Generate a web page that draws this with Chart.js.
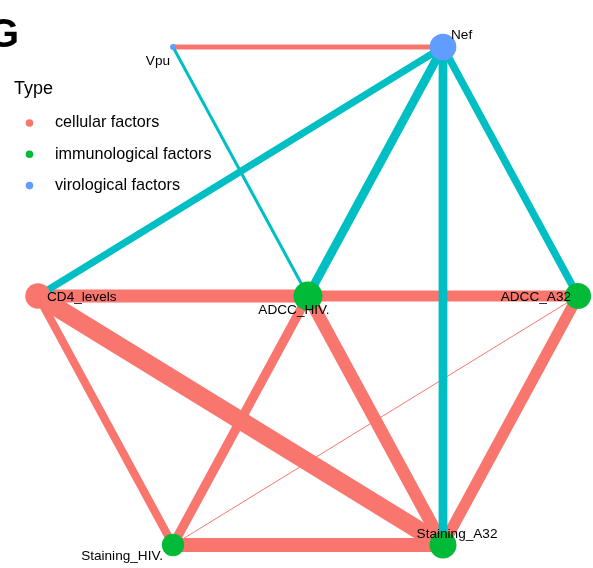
<!DOCTYPE html>
<html>
<head>
<meta charset="utf-8">
<script src="https://cdn.jsdelivr.net/npm/chart.js@4/dist/chart.umd.min.js"></script>
<style>
  html, body { margin: 0; padding: 0; background: #ffffff; overflow: hidden; }
  #wrap { position: relative; width: 593px; height: 568px; }
</style>
</head>
<body>
<div id="wrap"><canvas id="net" width="593" height="568"></canvas></div>
<script>
// ---- network data ----
const nodeNames = ['Vpu', 'Nef', 'CD4_levels', 'ADCC_HIV.', 'ADCC_A32', 'Staining_HIV.', 'Staining_A32'];
const nodeTypes = ['virological factors', 'virological factors', 'cellular factors',
                   'immunological factors', 'immunological factors', 'immunological factors', 'immunological factors'];
// grid layout coordinates (column, row)
const nodeX = [1, 3, 0, 2, 4, 1, 3];
const nodeY = [0, 0, 1, 1, 1, 2, 2];
// relative node importance
const nodeStrength = [0.2, 0.92, 0.88, 1.0, 0.9, 0.77, 0.93];

// correlation edges: positive = same direction, negative = opposite
const edgeFrom = ['Vpu', 'Vpu',       'Nef',        'Nef',       'Nef',          'Nef',      'CD4_levels', 'ADCC_HIV.', 'CD4_levels',   'CD4_levels',    'ADCC_HIV.',     'ADCC_HIV.',    'ADCC_A32',      'ADCC_A32',     'Staining_HIV.'];
const edgeTo   = ['Nef', 'ADCC_HIV.', 'CD4_levels', 'ADCC_HIV.', 'Staining_A32', 'ADCC_A32', 'ADCC_HIV.',  'ADCC_A32',  'Staining_A32', 'Staining_HIV.', 'Staining_HIV.', 'Staining_A32', 'Staining_HIV.', 'Staining_A32', 'Staining_A32'];
const edgeCorr = [0.25,  -0.15,       -0.36,        -0.44,       -0.44,          -0.37,      0.64,         0.56,        0.90,           0.40,            0.46,            0.63,           0.05,            0.56,           0.70];

const typeLabels = ['cellular factors', 'immunological factors', 'virological factors'];
const panelTag = 'G';
const legendTitle = 'Type';

// ---- styling ----
const typeColors = { 'cellular factors': '#F8766D', 'immunological factors': '#00BA38', 'virological factors': '#619CFF' };
const posColor = '#F8766D';
const negColor = '#00BFC4';
const maxRadius = 14.5;
const widthScale = 20;
const FONT = '"Liberation Sans", Arial, Helvetica, sans-serif';

// label placement relative to the node centre (px) and alignment
const labelPlace = {
  'Vpu':           { dx: -3,  dy: 14,  align: 'right' },
  'Nef':           { dx: 8,   dy: -12, align: 'left' },
  'CD4_levels':    { dx: 9,   dy: 1,   align: 'left' },
  'ADCC_HIV.':     { dx: -14, dy: 14,  align: 'center' },
  'ADCC_A32':      { dx: -7,  dy: 1,   align: 'right' },
  'Staining_HIV.': { dx: -10, dy: 11,  align: 'right' },
  'Staining_A32':  { dx: 14,  dy: -11, align: 'center' }
};

const idx = name => nodeNames.indexOf(name);

const edgeDatasets = edgeFrom.map((f, i) => {
  const a = idx(f), b = idx(edgeTo[i]);
  const r = edgeCorr[i];
  return {
    type: 'line',
    data: [{ x: nodeX[a], y: nodeY[a] }, { x: nodeX[b], y: nodeY[b] }],
    borderColor: r >= 0 ? posColor : negColor,
    borderWidth: Math.abs(r) * widthScale,
    borderCapStyle: 'butt',
    pointRadius: 0,
    pointHoverRadius: 0,
    showLine: true,
    fill: false,
    clip: false,
    order: r >= 0 ? 3 : 2
  };
});

const nodeDataset = {
  type: 'scatter',
  data: nodeNames.map((n, i) => ({ x: nodeX[i], y: nodeY[i] })),
  pointRadius: nodeStrength.map(s => s * maxRadius),
  pointHoverRadius: nodeStrength.map(s => s * maxRadius),
  pointBackgroundColor: nodeTypes.map(t => typeColors[t]),
  pointBorderWidth: 0,
  showLine: false,
  clip: false,
  order: 1
};

const decorations = {
  id: 'decorations',
  afterDatasetsDraw(chart) {
    const ctx = chart.ctx;
    const xs = chart.scales.x, ys = chart.scales.y;
    ctx.save();
    // node labels
    ctx.fillStyle = '#000000';
    ctx.font = '13.6px ' + FONT;
    ctx.textBaseline = 'middle';
    nodeNames.forEach((n, i) => {
      const p = labelPlace[n];
      ctx.textAlign = p.align;
      ctx.fillText(n, xs.getPixelForValue(nodeX[i]) + p.dx, ys.getPixelForValue(nodeY[i]) + p.dy);
    });
    // panel tag
    ctx.textAlign = 'left';
    ctx.textBaseline = 'alphabetic';
    ctx.font = 'bold 40px ' + FONT;
    ctx.fillText(panelTag, -12, 47);
    // legend
    ctx.font = '18px ' + FONT;
    ctx.textBaseline = 'middle';
    ctx.fillText(legendTitle, 14, 89);
    ctx.font = '16.2px ' + FONT;
    typeLabels.forEach((t, k) => {
      const y = 123 + k * 31.3;
      ctx.fillStyle = typeColors[t];
      ctx.beginPath();
      ctx.arc(29.5, y, 3.8, 0, Math.PI * 2);
      ctx.fill();
      ctx.fillStyle = '#000000';
      ctx.fillText(t, 55, y);
    });
    ctx.restore();
  }
};

new Chart(document.getElementById('net'), {
  type: 'scatter',
  data: { datasets: [nodeDataset, ...edgeDatasets] },
  options: {
    responsive: false,
    animation: false,
    events: [],
    layout: { padding: { left: 38, right: 15, top: 47, bottom: 23 } },
    plugins: { legend: { display: false }, tooltip: { enabled: false } },
    scales: {
      x: { type: 'linear', min: 0, max: 4, display: false },
      y: { type: 'linear', min: 0, max: 2, reverse: true, display: false }
    }
  },
  plugins: [decorations]
});
</script>
</body>
</html>
